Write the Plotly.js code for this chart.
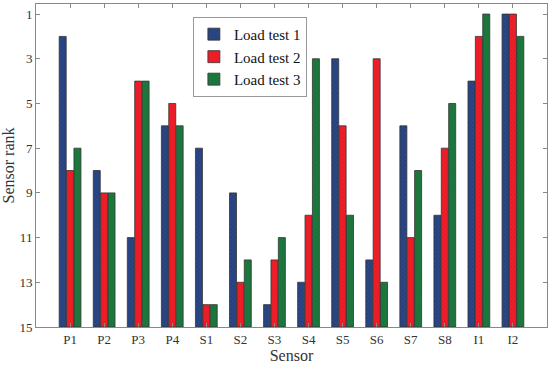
<!DOCTYPE html>
<html>
<head>
<meta charset="utf-8">
<script src="https://cdn.plot.ly/plotly-3.0.1.min.js"></script>
<style>html,body{margin:0;padding:0;background:#fff}#chart{width:550px;height:366px}</style>
</head>
<body>
<div id="chart"></div>
<script>
const sensors = ["P1","P2","P3","P4","S1","S2","S3","S4","S5","S6","S7","S8","I1","I2"];
const loadTest1 = [2, 8, 11, 6, 7, 9, 14, 13, 3, 12, 6, 10, 4, 1];
const loadTest2 = [8, 9, 4, 5, 14, 13, 12, 10, 6, 3, 11, 7, 2, 1];
const loadTest3 = [7, 9, 4, 6, 14, 12, 11, 3, 10, 13, 8, 5, 1, 2];
const seriesNames = ["Load test 1", "Load test 2", "Load test 3"];
const yTicks = [1, 3, 5, 7, 9, 11, 13, 15];
const baseRank = 15;

const colors = ["#2a4787", "#ee1f2a", "#1d7a3e"];
const fg = ["#1a2c5c", "#d01018", "#135a2b"];
const allSeries = [loadTest1, loadTest2, loadTest3];
const FONT = "'Liberation Serif', 'Times New Roman', Times, serif";

const traces = allSeries.map((vals, i) => ({
  type: "bar",
  name: seriesNames[i],
  x: sensors,
  y: vals.map(v => baseRank - v),
  base: vals,
  marker: {
    color: colors[i],
    line: {color: "#333", width: 0.8},
    pattern: {shape: "x", size: 3, solidity: 0.15, fgcolor: fg[i], bgcolor: colors[i]}
  },
  hoverinfo: "skip"
}));

const layout = {
  width: 550, height: 366,
  margin: {l: 36, r: 3, t: 4, b: 39},
  paper_bgcolor: "#fff", plot_bgcolor: "#fff",
  font: {family: FONT, color: "#222", size: 13},
  barmode: "group",
  bargap: 0.35,
  bargroupgap: 0.05,
  showlegend: true,
  legend: {
    x: 0.307, y: 0.96, xanchor: "left", yanchor: "top",
    bgcolor: "#fff", bordercolor: "#999", borderwidth: 1,
    font: {family: FONT, size: 15, color: "#111"},
    tracegroupgap: 0, itemwidth: 30
  },
  xaxis: {
    type: "category",
    range: [-1, 14],
    showline: true, linecolor: "#888", linewidth: 1, mirror: "ticks",
    ticks: "inside", ticklen: 4, tickcolor: "#888",
    showgrid: false, zeroline: false,
    tickfont: {family: FONT, size: 13, color: "#333"},
    title: {text: "Sensor", font: {family: FONT, size: 16, color: "#333"}, standoff: 4}
  },
  yaxis: {
    range: [15, 0.55],
    tickvals: yTicks,
    ticktext: yTicks.map(String),
    showline: true, linecolor: "#888", linewidth: 1, mirror: "ticks",
    ticks: "inside", ticklen: 4, tickcolor: "#888",
    showgrid: false, zeroline: false,
    tickfont: {family: FONT, size: 13, color: "#333"},
    title: {text: "Sensor rank", font: {family: FONT, size: 16, color: "#333"}, standoff: 4}
  }
};

Plotly.newPlot("chart", traces, layout, {displayModeBar: false, staticPlot: true});
</script>
</body>
</html>
